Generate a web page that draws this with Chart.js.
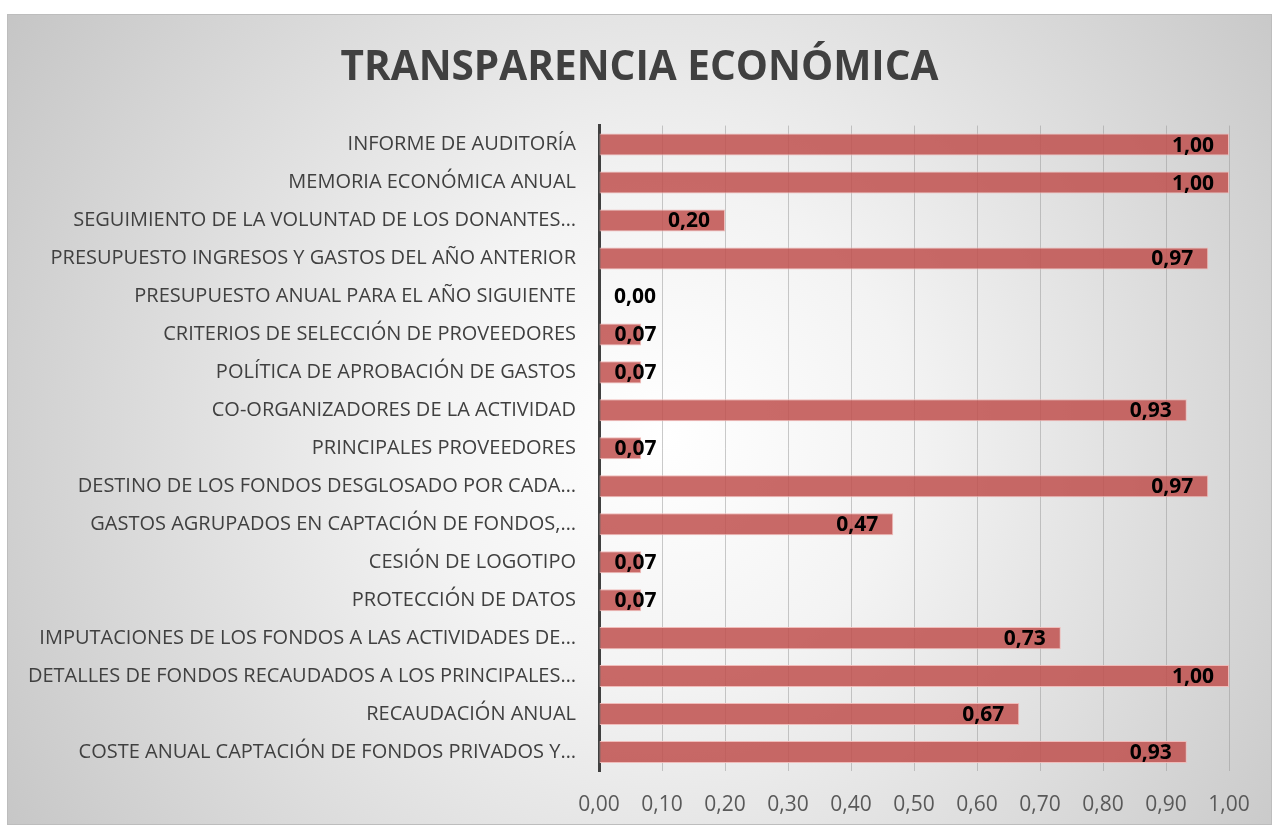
<!DOCTYPE html>
<html>
<head>
<meta charset="utf-8">
<script src="https://cdn.jsdelivr.net/npm/chart.js@4/dist/chart.umd.min.js"></script>
<style>
  html, body { margin: 0; padding: 0; background: #ffffff; }
  #wrap { position: absolute; left: 7px; top: 14px; width: 1265px; height: 811px; }
</style>
</head>
<body>
<div id="wrap"><canvas id="c" width="1265" height="811"></canvas></div>
<script>
const chartTitle = "TRANSPARENCIA ECONÓMICA";
const categories = [
  "INFORME DE AUDITORÍA",
  "MEMORIA ECONÓMICA ANUAL",
  "SEGUIMIENTO DE LA VOLUNTAD DE LOS DONANTES…",
  "PRESUPUESTO INGRESOS Y GASTOS DEL AÑO ANTERIOR",
  "PRESUPUESTO ANUAL PARA EL AÑO SIGUIENTE",
  "CRITERIOS DE SELECCIÓN DE PROVEEDORES",
  "POLÍTICA DE APROBACIÓN DE GASTOS",
  "CO-ORGANIZADORES DE LA ACTIVIDAD",
  "PRINCIPALES PROVEEDORES",
  "DESTINO DE LOS FONDOS DESGLOSADO POR CADA…",
  "GASTOS AGRUPADOS EN CAPTACIÓN DE FONDOS,…",
  "CESIÓN DE LOGOTIPO",
  "PROTECCIÓN DE DATOS",
  "IMPUTACIONES DE LOS FONDOS A LAS ACTIVIDADES DE…",
  "DETALLES DE FONDOS RECAUDADOS A LOS PRINCIPALES…",
  "RECAUDACIÓN ANUAL",
  "COSTE ANUAL CAPTACIÓN DE FONDOS PRIVADOS Y…"
];
const values = [1.00, 1.00, 0.20, 0.967, 0.00, 0.067, 0.067, 0.933, 0.067, 0.967, 0.467, 0.067, 0.067, 0.733, 1.00, 0.667, 0.933];
const xMin = 0, xMax = 1, xStep = 0.1;

const fmt = v => Number(v).toFixed(2).replace('.', ',');
const FONT = "'Open Sans', 'Noto Sans', sans-serif";

const bgPlugin = {
  id: 'bg',
  beforeDraw(chart) {
    const ctx = chart.ctx, w = chart.width, h = chart.height;
    ctx.save();
    const cx = w * 0.52, cy = h * 0.52;
    const r = Math.hypot(cx, cy) * 1.05;
    const g = ctx.createRadialGradient(cx, cy, 0, cx, cy, r);
    g.addColorStop(0, '#ffffff');
    g.addColorStop(0.3, '#f3f3f3');
    g.addColorStop(1, '#c2c2c2');
    ctx.fillStyle = g;
    ctx.fillRect(0, 0, w, h);
    ctx.strokeStyle = '#bdbdbd';
    ctx.lineWidth = 1;
    ctx.strokeRect(0.5, 0.5, w - 1, h - 1);
    ctx.restore();
  }
};

const labelPlugin = {
  id: 'barLabels',
  afterDatasetsDraw(chart) {
    const ctx = chart.ctx;
    const meta = chart.getDatasetMeta(0);
    ctx.save();
    ctx.font = "bold 21px " + FONT;
    ctx.fillStyle = '#000000';
    ctx.textBaseline = 'middle';
    meta.data.forEach((el, i) => {
      const txt = fmt(values[i]);
      const w = ctx.measureText(txt).width;
      let right = el.x - 15;
      let left = right - w;
      if (left < el.base + 15) left = el.base + 15;
      ctx.textAlign = 'left';
      ctx.fillText(txt, left, el.y + 1);
    });
    ctx.restore();
  }
};

new Chart(document.getElementById('c'), {
  type: 'bar',
  data: {
    labels: categories,
    datasets: [{
      data: values,
      backgroundColor: 'rgba(192,80,77,0.85)',
      borderColor: 'rgba(240,185,183,0.95)',
      borderWidth: 1,
      borderSkipped: false,
      barPercentage: 0.58,
      categoryPercentage: 1.0
    }]
  },
  options: {
    indexAxis: 'y',
    responsive: false,
    animation: false,
    devicePixelRatio: 1,
    layout: { padding: { left: 0, right: 0, top: 0, bottom: 0 } },
    plugins: {
      legend: { display: false },
      tooltip: { enabled: false },
      title: {
        display: true,
        text: chartTitle,
        color: '#404040',
        font: { family: FONT, size: 40.5, weight: 'bold', lineHeight: 1.2 },
        padding: { top: 30, bottom: 33 }
      }
    },
    scales: {
      x: {
        type: 'linear',
        min: xMin, max: xMax,
        grid: { color: 'rgba(150,150,150,0.5)', lineWidth: 1, drawTicks: false },
        border: { display: false },
        ticks: {
          stepSize: xStep,
          color: '#595959',
          font: { family: FONT, size: 21 },
          padding: 21,
          callback: v => fmt(v)
        },
        afterFit(s) { s.height = 54; }
      },
      y: {
        grid: { display: false, drawTicks: false },
        border: { display: true, color: '#404040', width: 3 },
        ticks: {
          color: '#404040',
          font: { family: FONT, size: 20 },
          padding: 23,
          autoSkip: false
        },
        afterFit(s) { s.width = 592; }
      },
      yRight: {
        type: 'category',
        position: 'right',
        grid: { display: false, drawTicks: false },
        border: { display: false },
        ticks: { display: false },
        afterFit(s) { s.width = 43; }
      }
    }
  },
  plugins: [bgPlugin, labelPlugin]
});
</script>
</body>
</html>
